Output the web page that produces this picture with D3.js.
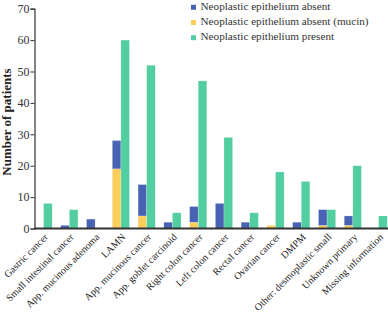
<!DOCTYPE html>
<html>
<head>
<meta charset="utf-8">
<script src="https://cdn.jsdelivr.net/npm/d3@7"></script>
<style>
  body { margin: 0; background: #fff; }
  svg text { font-family: "Liberation Serif", "Times New Roman", Times, serif !important; }
</style>
</head>
<body>
<div id="chart"></div>
<script>
const categories = [
  'Gastric cancer', 'Small intestinal cancer', 'App. mucinous adenoma', 'LAMN',
  'App. mucinous cancer', 'App. goblet carcinoid', 'Right colon cancer', 'Left colon cancer',
  'Rectal cancer', 'Ovarian cancer', 'DMPM', 'Other: desmoplastic small',
  'Unknown primary', 'Missing information'
]
// stacked on the left bar: mucin at bottom, absent on top
const absentMucin = [0, 0, 0, 19, 4, 0, 2, 0, 0, 1, 0, 1, 1, 0]
const absent      = [0, 1, 3, 9, 10, 2, 5, 8, 2, 0, 2, 5, 3, 0]
const present     = [8, 6, 0, 60, 52, 5, 47, 29, 5, 18, 15, 6, 20, 4]
const yTicks = [0, 10, 20, 30, 40, 50, 60, 70]

const legendItems = [
  { label: 'Neoplastic epithelium absent', color: '#4863b4' },
  { label: 'Neoplastic epithelium absent (mucin)', color: '#fbcd5b' },
  { label: 'Neoplastic epithelium present', color: '#52cea0' },
]

const width = 388, height = 315
const svg = d3.select('#chart').append('svg')
  .attr('width', width).attr('height', height)

const x = d3.scaleBand().domain(categories).range([35, 387.2])
  .paddingInner(1 / 3).paddingOuter(0)
const sub = d3.scaleBand().domain(['left', 'right']).range([0, x.bandwidth()])
const y = d3.scaleLinear().domain([0, 70]).range([228.5, 8.7])

// y axis
const yAxis = svg.append('g')
  .attr('transform', 'translate(34.5,0)')
  .call(d3.axisLeft(y).tickValues(yTicks).tickSize(4).tickPadding(1))
yAxis.select('.domain').attr('stroke', '#333').attr('stroke-width', 1.2)
yAxis.selectAll('.tick line').attr('stroke', '#333')
yAxis.selectAll('.tick text')
  .attr('fill', '#333')
  .attr('font-size', '12px')

svg.append('text')
  .attr('transform', 'translate(11,122) rotate(-90)')
  .attr('text-anchor', 'middle')
  .attr('font-size', '13px')
  .attr('font-weight', 'bold')
  .attr('fill', '#222')
  .text('Number of patients')

// bars
const rows = categories.map((c, i) => ({ c, m: absentMucin[i], a: absent[i], p: present[i] }))
const grp = svg.append('g').selectAll('g.cat').data(rows).join('g')
  .attr('class', 'cat')
  .attr('transform', d => `translate(${x(d.c)},0)`)

grp.append('rect')
  .attr('x', sub('left')).attr('width', sub.bandwidth())
  .attr('y', d => y(d.m)).attr('height', d => y(0) - y(d.m))
  .attr('fill', legendItems[1].color)
grp.append('rect')
  .attr('x', sub('left')).attr('width', sub.bandwidth())
  .attr('y', d => y(d.m + d.a)).attr('height', d => y(d.m) - y(d.m + d.a))
  .attr('fill', legendItems[0].color)
grp.append('rect')
  .attr('x', sub('right')).attr('width', sub.bandwidth())
  .attr('y', d => y(d.p)).attr('height', d => y(0) - y(d.p))
  .attr('fill', legendItems[2].color)
grp.selectAll('rect').attr('stroke', '#fff').attr('stroke-opacity', 0.35).attr('stroke-width', 0.6)

// x axis
const xAxis = svg.append('g')
  .attr('transform', `translate(0,${y(0)})`)
  .call(d3.axisBottom(x).tickSize(0).tickPadding(0))
xAxis.select('.domain').attr('d', `M34,0H${width}`).attr('stroke', '#333').attr('stroke-width', 2)
xAxis.selectAll('.tick text')
  .attr('fill', '#222')
  .attr('font-size', '10px')
  .attr('text-anchor', 'end')
  .attr('dy', null)
  .attr('transform', 'translate(3.5,7.5) rotate(-45)')
  .attr('y', 0).attr('x', 0)
  .attr('dominant-baseline', 'middle')

// legend
const li = svg.append('g').attr('transform', 'translate(191,0)')
  .selectAll('g').data(legendItems).join('g')
  .attr('transform', (d, i) => `translate(0,${7.3 + i * 15.2})`)
li.append('rect').attr('x', 0).attr('y', -2.5).attr('width', 5).attr('height', 5)
  .attr('fill', d => d.color)
li.append('text').attr('x', 9.5).attr('y', 0)
  .attr('dominant-baseline', 'middle')
  .attr('font-size', '11.2px').attr('fill', '#333')
  .text(d => d.label)
</script>
</body>
</html>
